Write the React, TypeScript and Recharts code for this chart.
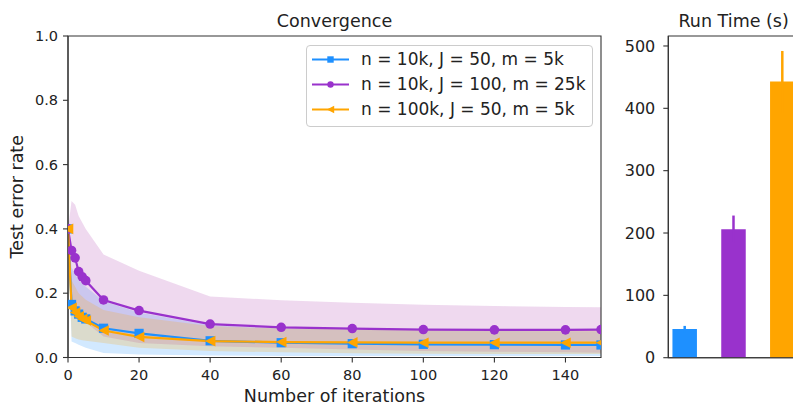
import React from 'react';
import { ComposedChart, Line, Area, XAxis, YAxis, Legend, Bar, Cell, ErrorBar, Label, ReferenceArea } from 'recharts';

// convergence curves (test error rate vs iterations)
const iterations = [0, 1, 2, 3, 4, 5, 10, 20, 40, 60, 80, 100, 120, 140, 150];
const blueMean = [0.4, 0.165, 0.145, 0.135, 0.125, 0.12, 0.091, 0.075, 0.052, 0.046, 0.043, 0.041, 0.04, 0.039, 0.039];
const blueLow = [0.4, 0.05, 0.045, 0.04, 0.035, 0.03, 0.014, 0.009, 0.006, 0.005, 0.005, 0.005, 0.005, 0.005, 0.005];
const blueHigh = [0.4, 0.28, 0.26, 0.24, 0.23, 0.22, 0.175, 0.14, 0.1, 0.09, 0.086, 0.084, 0.083, 0.082, 0.082];
const purpleMean = [0.4, 0.333, 0.31, 0.267, 0.251, 0.239, 0.179, 0.146, 0.104, 0.094, 0.09, 0.087, 0.086, 0.086, 0.087];
const purpleLow = [0.4, 0.14, 0.125, 0.12, 0.115, 0.11, 0.065, 0.045, 0.035, 0.03, 0.025, 0.02, 0.018, 0.016, 0.015];
const purpleHigh = [0.4, 0.487, 0.475, 0.44, 0.42, 0.4, 0.32, 0.27, 0.19, 0.178, 0.17, 0.164, 0.16, 0.157, 0.156];
const orangeMean = [0.4, 0.155, 0.14, 0.128, 0.12, 0.115, 0.084, 0.064, 0.051, 0.048, 0.047, 0.046, 0.046, 0.046, 0.046];
const orangeLow = [0.4, 0.065, 0.06, 0.056, 0.054, 0.052, 0.045, 0.03, 0.02, 0.016, 0.013, 0.012, 0.011, 0.011, 0.011];
const orangeHigh = [0.4, 0.24, 0.22, 0.2, 0.19, 0.18, 0.148, 0.125, 0.098, 0.09, 0.088, 0.087, 0.087, 0.087, 0.087];

const seriesNames = ['n = 10k, J = 50, m = 5k', 'n = 10k, J = 100, m = 25k', 'n = 100k, J = 50, m = 5k'];
const colors = ['#1E90FF', '#9932CC', '#FFA500'];
const bandColors = ['#1E90FF', '#B040B0', '#FFA500'];
const markers = ['square', 'circle', 'triangle'];

const iterTicks = [0, 20, 40, 60, 80, 100, 120, 140];
const errTicks = [0, 0.2, 0.4, 0.6, 0.8, 1.0];

// run time bars
const runTimes = [46, 206, 443];
const runTimeErr = [5, 22, 49];
const timeTicks = [0, 100, 200, 300, 400, 500];

const rows = iterations.map((it, i) => ({
  it,
  blue: blueMean[i],
  purple: purpleMean[i],
  orange: orangeMean[i],
  blueBand: [blueLow[i], blueHigh[i]],
  purpleBand: [purpleLow[i], purpleHigh[i]],
  orangeBand: [orangeLow[i], orangeHigh[i]],
}));

const barRows = runTimes.map((t, i) => ({ pos: i, time: t, ['err' + i]: runTimeErr[i] }));

const ink = '#222';
const spine = '#333';

function marker(kind: string, cx: number, cy: number, color: string, s: number, key?: any) {
  if (kind === 'square') {
    return <rect key={key} x={cx - s} y={cy - s} width={2 * s} height={2 * s} fill={color} />;
  }
  if (kind === 'circle') {
    return <circle key={key} cx={cx} cy={cy} r={s} fill={color} />;
  }
  const h = s * 1.15;
  return (
    <path key={key} d={`M${cx - h},${cy} L${cx + h},${cy - h} L${cx + h},${cy + h} Z`} fill={color} />
  );
}

const makeDot = (i: number) => (p: any) => {
  if (p.cx == null || p.cy == null) return <g key={`d${i}-${p.index}`} />;
  return marker(markers[i], p.cx, p.cy, colors[i], i === 1 ? 4.8 : 4.6, `d${i}-${p.index}`);
};

const renderLegend = () => (
  <div
    style={{
      position: 'relative',
      width: 287,
      height: 82,
      border: '1px solid #ccc',
      borderRadius: 4,
      background: 'rgba(255,255,255,0.8)',
      boxSizing: 'border-box',
    }}
  >
    {seriesNames.map((name, i) => (
      <div
        key={name}
        style={{ position: 'absolute', left: 0, top: 1 + i * 25, height: 25, display: 'flex', alignItems: 'center' }}
      >
        <svg width={54} height={25} style={{ display: 'block' }}>
          <line x1={5} x2={42} y1={12.5} y2={12.5} stroke={colors[i]} strokeWidth={2.2} />
          {marker(markers[i], 23.5, 12.5, colors[i], 3.2)}
        </svg>
        <span style={{ fontSize: 17, color: ink, whiteSpace: 'nowrap', lineHeight: '25px' }}>{name}</span>
      </div>
    ))}
  </div>
);

export default function App() {
  return (
    <div
      style={{
        position: 'absolute',
        left: 0,
        top: 0,
        width: 793,
        height: 404,
        overflow: 'hidden',
        background: '#fff',
        fontFamily: '"DejaVu Sans", sans-serif',
      }}
    >
      <div style={{ position: 'absolute', left: 0, top: 0 }}>
        <ComposedChart width={620} height={404} data={rows} margin={{ top: 36, right: 19, bottom: 0, left: 0 }}>
          <XAxis
            dataKey="it"
            type="number"
            domain={[0, 150]}
            ticks={iterTicks}
            allowDataOverflow
            height={46.5}
            tickSize={5}
            tickMargin={7}
            axisLine={{ stroke: spine, strokeWidth: 1.1 }}
            tickLine={{ stroke: spine, strokeWidth: 1.1 }}
            tick={{ fill: ink, fontSize: 14.5 }}
          >
            <Label value="Number of iterations" position="insideBottom" offset={2.5} fill={ink} fontSize={17.5} />
          </XAxis>
          <YAxis
            type="number"
            domain={[0, 1]}
            ticks={errTicks}
            allowDataOverflow
            width={68}
            tickSize={5}
            tickMargin={5}
            tickFormatter={(v: number) => v.toFixed(1)}
            axisLine={{ stroke: spine, strokeWidth: 1.1 }}
            tickLine={{ stroke: spine, strokeWidth: 1.1 }}
            tick={{ fill: ink, fontSize: 14.5 }}
          >
            <Label
              value="Test error rate"
              angle={-90}
              position="insideLeft"
              offset={17}
              fill={ink}
              fontSize={17.5}
              style={{ textAnchor: 'middle' }}
            />
          </YAxis>
          <Area dataKey="blueBand" type="linear" stroke="none" fill={bandColors[0]} fillOpacity={0.2} dot={false} activeDot={false} isAnimationActive={false} />
          <Area dataKey="purpleBand" type="linear" stroke="none" fill={bandColors[1]} fillOpacity={0.2} dot={false} activeDot={false} isAnimationActive={false} />
          <Area dataKey="orangeBand" type="linear" stroke="none" fill={bandColors[2]} fillOpacity={0.2} dot={false} activeDot={false} isAnimationActive={false} />
          <Line dataKey="blue" type="linear" stroke={colors[0]} strokeWidth={2.2} dot={makeDot(0)} activeDot={false} isAnimationActive={false} />
          <Line dataKey="purple" type="linear" stroke={colors[1]} strokeWidth={2.2} dot={makeDot(1)} activeDot={false} isAnimationActive={false} />
          <Line dataKey="orange" type="linear" stroke={colors[2]} strokeWidth={2.2} dot={makeDot(2)} activeDot={false} isAnimationActive={false} />
          <ReferenceArea
            x1={0}
            x2={150}
            y1={0}
            y2={1}
            fill="none"
            stroke={spine}
            strokeWidth={1.1}
            label={{ value: 'Convergence', position: 'top', offset: 9, fill: ink, fontSize: 17.5 }}
          />
          <Legend
            layout="horizontal"
            verticalAlign="middle"
            align="center"
            content={renderLegend}
            wrapperStyle={{ left: 306, top: 45, width: 287, height: 82 }}
          />
        </ComposedChart>
      </div>

      <div style={{ position: 'absolute', left: 610, top: 0 }}>
        <ComposedChart width={189} height={404} data={barRows} margin={{ top: 36, right: 0, bottom: 0, left: 0 }}>
          <XAxis
            dataKey="pos"
            type="number"
            domain={[-0.339, 2.339]}
            allowDataOverflow
            height={46.3}
            tick={false}
            tickLine={false}
            axisLine={{ stroke: spine, strokeWidth: 1.1 }}
          />
          <YAxis
            type="number"
            domain={[0, 516]}
            ticks={timeTicks}
            allowDataOverflow
            width={58.3}
            tickSize={5}
            tickMargin={8}
            axisLine={{ stroke: spine, strokeWidth: 1.1 }}
            tickLine={{ stroke: spine, strokeWidth: 1.1 }}
            tick={{ fill: ink, fontSize: 16 }}
          />
          <Bar dataKey="time" barSize={24.5} isAnimationActive={false}>
            {barRows.map((r, i) => (
              <Cell key={r.pos} fill={colors[i]} />
            ))}
            {runTimes.map((_, i) => (
              <ErrorBar
                key={i}
                dataKey={'err' + i}
                direction="y"
                width={0}
                stroke={colors[i]}
                strokeWidth={2.5}
                isAnimationActive={false}
              />
            ))}
          </Bar>
          <ReferenceArea
            x1={-0.339}
            x2={2.339}
            y1={0}
            y2={516}
            fill="none"
            stroke={spine}
            strokeWidth={1.1}
            label={{ value: 'Run Time (s)', position: 'top', offset: 9, fill: ink, fontSize: 17.5 }}
          />
        </ComposedChart>
      </div>
    </div>
  );
}
